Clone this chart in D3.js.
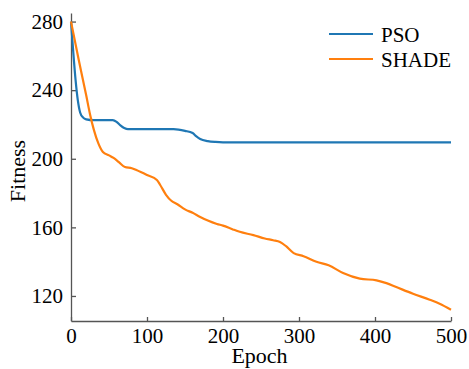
<!DOCTYPE html>
<html>
<head>
    <meta charset="utf-8">
    <title>Fitness - PSO vs SHADE</title>
    <script src="https://d3js.org/d3.v7.min.js"></script>
    <style>
        body { margin: 0; background: #fff; }
        svg text { font-family: "Liberation Serif", "Times New Roman", Times, serif; }
        .axis path, .axis line { stroke: #555; stroke-width: 1.3; }
        .axis text { font-size: 21px; fill: #000; }
    </style>
</head>
<body>
<div id="chart"></div>
<script>

    // dados
    let psoEpochs = [0, 3, 6, 9, 12, 16, 20, 30, 55, 60, 65, 70, 75, 100, 135, 150, 160, 165, 170, 180, 190, 200, 300, 400, 500];
    let psoValues = [280, 262, 246, 234, 227, 224, 223, 222.5, 222.5, 221.5, 219.5, 218, 217.3, 217.3, 217.3, 216.3, 215, 213, 211.5, 210.3, 209.8, 209.6, 209.6, 209.6, 209.6];

    let shadeEpochs = [0, 10, 20, 25, 30, 36, 42, 50, 56, 63, 71, 80, 86, 100, 113, 117, 125, 132, 140, 150, 160, 170, 180, 192, 200, 213, 222, 240, 255, 266, 275, 283, 293, 306, 323, 339, 358, 380, 402, 415, 428, 450, 472, 485, 500];
    let shadeValues = [280, 258, 237, 226, 217, 209, 204, 202, 200.5, 198, 195.2, 194.5, 193.4, 190.5, 187.6, 185, 179, 175.5, 173.5, 170.5, 168.5, 166.1, 164, 162, 161, 158.8, 157.4, 155.5, 153.5, 152.5, 151.5, 149, 145, 143.2, 139.9, 137.9, 133.4, 130.1, 129.1, 127.5, 125.2, 121.3, 117.8, 115.5, 112];

    let xTicks = [0, 100, 200, 300, 400, 500];
    let yTicks = [120, 160, 200, 240, 280];

    let seriesNames = ["PSO", "SHADE"];
    let seriesColors = ["#1f77b4", "#ff7f0e"];

    let margin = {top: 13, right: 18, bottom: 48, left: 71};
    let w = 469 - margin.left - margin.right;
    let h = 369 - margin.top - margin.bottom;

    let svg = d3.select("#chart")
            .append("svg")
                .attr("width", w + margin.left + margin.right)
                .attr("height", h + margin.top + margin.bottom)
            .append("g")
                .attr("transform", "translate(" + margin.left + "," + margin.top + ")");

    let xScale = d3.scaleLinear().domain([0, 500]).range([0, w]);
    let yScale = d3.scaleLinear().domain([105.4, 285]).range([h, 0]);

    // eixos com ticks para dentro
    let xAxis = d3.axisBottom(xScale).tickValues(xTicks).tickSize(-4).tickSizeOuter(0).tickPadding(7);
    let yAxis = d3.axisLeft(yScale).tickValues(yTicks).tickSize(-5).tickSizeOuter(0).tickPadding(8);

    let gx = svg.append("g")
        .attr("class", "axis")
        .attr("transform", "translate(0," + h + ")")
        .call(xAxis);

    let gy = svg.append("g")
        .attr("class", "axis")
        .call(yAxis);

    // tira o font-family que o d3 coloca no eixo
    gx.attr("font-family", null);
    gy.attr("font-family", null);

    let series = [
        psoEpochs.map(function(e, i) { return [e, psoValues[i]]; }),
        shadeEpochs.map(function(e, i) { return [e, shadeValues[i]]; })
    ];

    let line = d3.line()
        .x(function(d) { return xScale(d[0]); })
        .y(function(d) { return yScale(d[1]); })
        .curve(d3.curveMonotoneX);

    svg.selectAll(".serie")
        .data(series)
        .enter()
        .append("path")
        .attr("class", "serie")
        .attr("fill", "none")
        .attr("stroke", function(d, i) { return seriesColors[i]; })
        .attr("stroke-width", 2.2)
        .attr("d", line);

    // legenda
    let legend = svg.append("g")
        .attr("transform", "translate(" + (329 - margin.left) + "," + (34 - margin.top) + ")");

    seriesNames.forEach(function(name, i) {
        legend.append("line")
            .attr("x1", 0).attr("x2", 44)
            .attr("y1", i * 25).attr("y2", i * 25)
            .attr("stroke", seriesColors[i])
            .attr("stroke-width", 2.2);
        legend.append("text")
            .attr("x", 52)
            .attr("y", i * 25 + 8)
            .attr("font-size", "21px")
            .text(name);
    });

    // titulo eixo horizontal
    svg.append("text")
        .attr("x", 259.5 - margin.left)
        .attr("y", 363 - margin.top)
        .style("text-anchor", "middle")
        .attr("font-size", "22px")
        .text("Epoch");

    // titulo eixo vertical
    svg.append("text")
        .attr("transform", "rotate(-90)")
        .attr("x", -(171 - margin.top))
        .attr("y", 25 - margin.left)
        .style("text-anchor", "middle")
        .attr("font-size", "22px")
        .text("Fitness");

</script>
</body>
</html>
